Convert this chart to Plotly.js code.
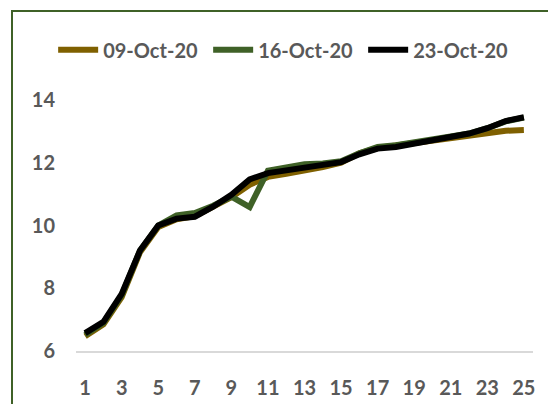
<!DOCTYPE html>
<html>
<head>
<meta charset="utf-8">
<script src="https://cdn.plot.ly/plotly-3.0.1.min.js"></script>
<style>
  html, body { margin: 0; padding: 0; background: #ffffff; }
  #wrap { position: relative; width: 548px; height: 404px; overflow: hidden; }
  #chart { width: 548px; height: 404px; }
  #frame { position: absolute; left: 11px; top: 10px; width: 700px; height: 600px;
           border-left: 2.5px solid #3F6127; border-top: 2.5px solid #3F6127;
           pointer-events: none; box-sizing: border-box; }
</style>
</head>
<body>
<div id="wrap">
  <div id="chart"></div>
  <div id="frame"></div>
</div>
<script>
const categories = [1,2,3,4,5,6,7,8,9,10,11,12,13,14,15,16,17,18,19,20,21,22,23,24,25];
const tickLabels = [1,3,5,7,9,11,13,15,17,19,21,23,25];
const seriesNames = ["09-Oct-20", "16-Oct-20", "23-Oct-20"];
const oct09 = [6.47, 6.85, 7.72, 9.15, 9.95, 10.2, 10.3, 10.58, 10.9, 11.3, 11.55, 11.65, 11.74, 11.86, 12.0, 12.3, 12.47, 12.55, 12.62, 12.72, 12.82, 12.9, 12.96, 13.02, 13.04];
const oct16 = [6.52, 6.9, 7.78, 9.2, 10.0, 10.32, 10.4, 10.63, 10.92, 10.59, 11.75, 11.87, 11.95, 11.98, 12.05, 12.3, 12.5, 12.56, 12.64, 12.75, 12.84, 12.93, 13.1, 13.32, 13.44];
const oct23 = [6.57, 6.93, 7.82, 9.2, 10.0, 10.22, 10.28, 10.6, 10.98, 11.47, 11.67, 11.76, 11.84, 11.92, 12.02, 12.27, 12.45, 12.5, 12.6, 12.7, 12.82, 12.93, 13.1, 13.33, 13.45];

const colors = ["#7F6000", "#3F6127", "#000000"];
const series = [oct09, oct16, oct23];

const traces = series.map((vals, i) => ({
  type: "scatter",
  mode: "lines",
  x: categories,
  y: vals,
  name: seriesNames[i],
  line: { color: colors[i], width: 6 }
}));

const tickFont = { family: "Lato, 'Open Sans', sans-serif", size: 20, color: "#595959", weight: "bold" };

const layout = {
  width: 548,
  height: 404,
  margin: { l: 76, r: 15, t: 100, b: 53, pad: 0 },
  paper_bgcolor: "#ffffff",
  plot_bgcolor: "#ffffff",
  showlegend: true,
  legend: {
    orientation: "h",
    x: -0.05, xanchor: "left",
    y: 1.2, yanchor: "middle",
    font: tickFont,
    itemwidth: 40,
    entrywidth: 100,
    entrywidthmode: "pixels",
    tracegroupgap: 0
  },
  xaxis: {
    range: [0.5, 25.5],
    tickmode: "array",
    tickvals: tickLabels,
    ticktext: tickLabels.map(String),
    showgrid: false,
    zeroline: false,
    showline: true,
    linecolor: "#D9D9D9",
    linewidth: 1.5,
    ticks: "",
    ticklabelstandoff: 18,
    tickfont: tickFont
  },
  yaxis: {
    range: [6, 14],
    tickvals: [6, 8, 10, 12, 14],
    showgrid: false,
    zeroline: false,
    showline: false,
    ticks: "",
    ticklabelstandoff: 20,
    tickfont: tickFont
  }
};

Plotly.newPlot("chart", traces, layout, { staticPlot: true, displayModeBar: false });
</script>
</body>
</html>
